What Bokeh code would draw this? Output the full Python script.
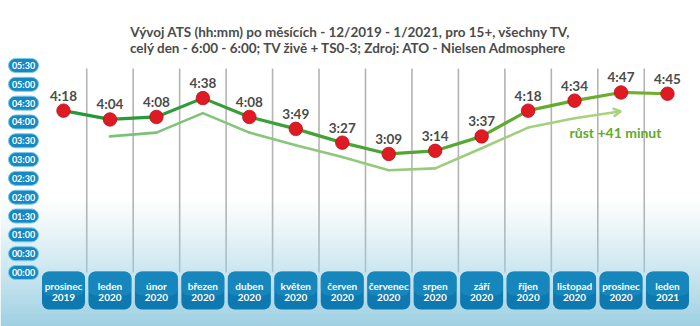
import numpy as np
from bokeh.plotting import figure
from bokeh.models import Range1d, Label, LabelSet, ColumnDataSource, Arrow, OpenHead
from bokeh.embed import file_html
from bokeh.resources import INLINE
from bokeh.core.properties import value

# --- data -------------------------------------------------------------------
months = ["prosinec", "leden", "únor", "březen", "duben", "květen", "červen",
          "červenec", "srpen", "září", "říjen", "listopad", "prosinec", "leden"]
years = ["2019", "2020", "2020", "2020", "2020", "2020", "2020",
         "2020", "2020", "2020", "2020", "2020", "2020", "2021"]
# average time spent, minutes per day
ats_minutes = [258, 244, 248, 278, 248, 229, 207, 189, 194, 217, 258, 274, 287, 285]
# lighter comparison trend (months leden 2020 .. prosinec 2020)
trend_minutes = [217, 223, 254, 223, 203, 184, 163, 166, 198, 231, 246, 257]
y_ticks = [0, 30, 60, 90, 120, 150, 180, 210, 240, 270, 300, 330]
growth_note = "růst +41 minut"
title_1 = "Vývoj ATS (hh:mm) po měsících - 12/2019 - 1/2021, pro 15+, všechny TV,"
title_2 = "celý den  - 6:00 - 6:00; TV živě + TS0-3; Zdroj: ATO - Nielsen Admosphere"

# --- canvas geometry --------------------------------------------------------
W, H = 700, 326
X0, DX = 63.0, 46.46          # pixel of first month, pixels per month
Y0, DY = 272.0, 207.0 / 330   # pixel of 00:00, pixels per minute


def px2x(px):
    return (px - X0) / DX


def py2y(py):
    return (Y0 - py) / DY


FONT = value("Lato")
GREY = "#4b4b4b"

p = figure(width=W, height=H, x_range=Range1d(px2x(0), px2x(W)),
           y_range=Range1d(py2y(H), py2y(0)), output_backend="svg",
           toolbar_location=None, min_border=0)
p.axis.visible = False
p.grid.visible = False
p.outline_line_color = None
p.background_fill_color = "white"
p.border_fill_color = "white"

idx = list(range(len(months)))

# vertical separators between months
sep_x = [i + 0.5 for i in idx[:-1]]
p.segment(x0=sep_x, x1=sep_x, y0=[py2y(68)] * len(sep_x), y1=[0] * len(sep_x),
          line_color="#b4b4b4", line_width=1.6)

# light-blue haze rising from the bottom edge
rows = H
img = np.zeros((rows, 1), dtype=np.uint32)
view = img.view(dtype=np.uint8).reshape((rows, 1, 4))
for r in range(rows):
    py = H - r - 0.5
    t = min(max((py - 195) / (H - 195), 0.0), 1.0)
    a = t ** 1.15
    view[r, 0, :] = [158, 208, 226, int(255 * a)]
p.image_rgba(image=[img], x=px2x(0), y=py2y(H), dw=px2x(W) - px2x(0),
             dh=py2y(0) - py2y(H))

# lighter comparison trend with arrow at its end
t_idx = list(range(1, 1 + len(trend_minutes)))
seg_cols_light = []
c0, c1 = np.array([122, 194, 120]), np.array([170, 210, 125])
for k in range(len(trend_minutes) - 2):
    f = k / (len(trend_minutes) - 2)
    c = (c0 * (1 - f) + c1 * f).astype(int)
    seg_cols_light.append("#%02x%02x%02x" % tuple(c))
p.multi_line(xs=[[t_idx[k], t_idx[k + 1]] for k in range(len(trend_minutes) - 2)],
             ys=[[trend_minutes[k], trend_minutes[k + 1]] for k in range(len(trend_minutes) - 2)],
             line_color=seg_cols_light, line_width=2.6, line_cap="round")
p.add_layout(Arrow(end=OpenHead(size=8, line_color="#a8d27d", line_width=2.4),
                   x_start=t_idx[-2], y_start=trend_minutes[-2],
                   x_end=t_idx[-1], y_end=trend_minutes[-1],
                   line_color="#a8d27d", line_width=2.6))

# main ATS line, shading from deep green to yellow-green
m0, m1 = np.array([36, 152, 58]), np.array([112, 176, 44])
seg_cols = []
for k in range(len(ats_minutes) - 1):
    f = k / (len(ats_minutes) - 2)
    c = (m0 * (1 - f) + m1 * f).astype(int)
    seg_cols.append("#%02x%02x%02x" % tuple(c))
p.multi_line(xs=[[idx[k], idx[k + 1]] for k in range(len(idx) - 1)],
             ys=[[ats_minutes[k], ats_minutes[k + 1]] for k in range(len(idx) - 1)],
             line_color=seg_cols, line_width=3.2, line_cap="round")

p.scatter(x=idx, y=ats_minutes, size=13.5, fill_color="#e01a22",
          line_color="#b8121a", line_width=0.8)

lbl_src = ColumnDataSource(dict(x=idx, y=ats_minutes,
                                t=[f"{m // 60}:{m % 60:02d}" for m in ats_minutes]))
p.add_layout(LabelSet(x="x", y="y", text="t", source=lbl_src, y_offset=15,
                      text_align="center", text_baseline="middle",
                      text_font=FONT, text_font_style="bold",
                      text_font_size="13.5px", text_color=GREY))

p.text(x=[px2x(615)], y=[py2y(132)], text=[growth_note], text_align="center",
       text_baseline="middle", text_font=FONT, text_font_style="bold",
       text_font_size="14px", text_color="#62a82c")

# y tick pills
pill_x = px2x(23)
p.rect(x=[pill_x] * len(y_ticks), y=y_ticks, width=30, height=14,
       width_units="screen", height_units="screen", fill_color="#1688c2",
       line_color="#7cc8ea", line_width=1, border_radius=7)
p.text(x=[pill_x] * len(y_ticks), y=y_ticks,
       text=[f"{m // 60:02d}:{m % 60:02d}" for m in y_ticks],
       text_align="center", text_baseline="middle", text_font=FONT,
       text_font_style="bold", text_font_size="9px", text_color="white")

# month boxes
box_y = py2y(290)
p.rect(x=idx, y=[box_y] * len(idx), width=43, height=38, width_units="screen",
       height_units="screen", fill_color="#0e79b0", line_color=None,
       border_radius=7)
p.rect(x=idx, y=[py2y(283)] * len(idx), width=43, height=24, width_units="screen",
       height_units="screen", fill_color="#1d92c6", fill_alpha=0.55,
       line_color=None, border_radius=7)
p.text(x=idx, y=[py2y(285.5)] * len(idx), text=months, text_align="center",
       text_baseline="middle", text_font=FONT, text_font_style="bold",
       text_font_size="10px", text_color="white")
p.text(x=idx, y=[py2y(296.5)] * len(idx), text=years, text_align="center",
       text_baseline="middle", text_font=FONT, text_font_style="bold",
       text_font_size="10px", text_color="white")

# two-line heading
for txt, py in ((title_1, 31.5), (title_2, 47.5)):
    p.add_layout(Label(x=350, y=H - py, x_units="screen", y_units="screen",
                       text=txt, text_align="center", text_baseline="middle",
                       text_font="Lato", text_font_style="bold",
                       text_font_size="13.5px", text_color=GREY))

open("out.html", "w").write(file_html(p, INLINE))
